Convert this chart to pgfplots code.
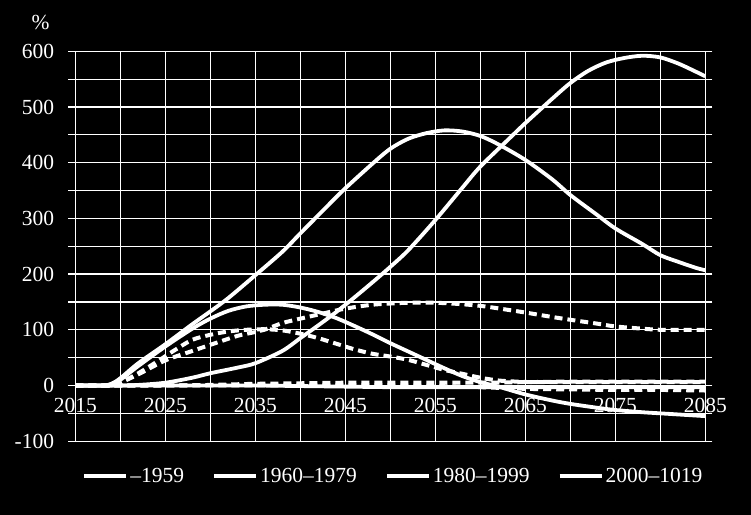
\documentclass[border=0pt]{standalone}
\usepackage{fontspec}
\setmainfont{Liberation Serif}
\usepackage{pgfplots}
\pgfplotsset{compat=1.18}
\pgfplotsset{
    sline/.style={white, line width=3.8bp, smooth, no markers, solid},
    dline/.style={white, line width=4bp, smooth, no markers, dash pattern=on 8bp off 5bp, forget plot},
}

\newcommand\chartfont{\fontsize{21.5bp}{26bp}\selectfont}

\begin{document}
\begin{tikzpicture}
\path[use as bounding box, fill=black] (0,0) rectangle (751bp,515bp);
\node[text=white, font=\chartfont] at (40.7bp,492.3bp) {\%};
\begin{axis}[
    at={(75.3bp,73.8bp)}, anchor=south west,
    scale only axis, width=630bp, height=389.9bp,
    xmin=2015, xmax=2085, ymin=-100, ymax=600,
    xtick={2015,2025,...,2085},
    xticklabels={2015,2025,2035,2045,2055,2065,2075,2085},
    minor xtick={2020,2030,...,2080},
    ytick={-100,0,...,600},
    yticklabels={-100,0,100,200,300,400,500,600},
    minor ytick={-50,50,...,550},
    xmajorgrids, xminorgrids, ymajorgrids, yminorgrids,
    grid style={white, line width=1.2bp},
    minor grid style={white, line width=1.2bp},
    axis line style={white, line width=1.2bp},
    xtick style={draw=none},
    ytick align=outside,
    ytick style={white, line width=1.2bp},
    major tick length=7bp, minor tick length=7bp,
    ticklabel style={font=\chartfont, text=white},
    yticklabel style={anchor=east, inner sep=0pt, xshift=-14bp},
    xticklabel style={anchor=center, inner sep=0pt, yshift=35.7bp},
    legend columns=4,
    legend style={at={(0.011,-0.0893)}, anchor=west, draw=none, fill=none,
        text=white, font=\chartfont, inner sep=0pt,
        nodes={inner sep=2bp},
        /tikz/every even column/.append style={column sep=26bp}},
    legend image code/.code={\draw[#1, line width=4bp] (0bp,0bp) -- (42bp,0bp);},
]
% dashed series (no legend)
\addplot[dline] coordinates {
(2015,0)(2019,0)(2020,5)(2022,22)(2024,42)(2026,63)(2028,82)(2030,91)(2032,97)
(2034,100)(2036,101)(2038,99)(2040,93)(2042,85)(2044,75)(2046,65)(2048,57)
(2050,52)(2052,46)(2054,37)(2056,28)(2058,21)(2060,14)(2062,9)(2064,7)(2066,6)
(2070,6)(2075,6)(2080,6)(2085,6)};
\addplot[dline] coordinates {
(2015,0)(2019,0)(2020,5)(2022,20)(2025,45)(2028,62)(2030,73)(2033,89)(2035,96)
(2036,100)(2038,112)(2040,120)(2043,131)(2045,138)(2048,145)(2051,148)(2054,149)
(2057,147)(2060,143)(2063,136)(2065,131)(2068,123)(2070,118)(2073,111)(2075,106)
(2078,102)(2080,100)(2083,100)(2085,100)};
\addplot[dline] coordinates {
(2015,0)(2025,0)(2030,1)(2035,3)(2040,4)(2045,5)(2050,5)(2055,5)(2060,5)
(2065,6)(2070,7)(2075,7)(2080,7)(2085,7)};
\addplot[dline] coordinates {
(2015,0)(2030,0)(2040,0)(2050,0)(2055,-1)(2060,-3)(2065,-6)(2070,-7)
(2075,-8)(2080,-8)(2085,-9)};
% solid series
\addplot[sline] coordinates {
(2015,0)(2020,0)(2025,0)(2030,0)(2035,0)(2040,-1)(2045,-2)(2050,-3)(2055,-3)
(2060,-3)(2065,-3)(2070,-3)(2075,-3)(2080,-3)(2085,-3)};
\addlegendentry{–1959}
\addplot[sline] coordinates {
(2015,0)(2019,0)(2020,10)(2022,35)(2025,70)(2028,102)(2030,120)(2032,134)
(2034,142)(2036,145)(2038,145)(2040,140)(2042,132)(2044,121)(2046,107)(2048,92)
(2050,76)(2052,61)(2054,46)(2056,31)(2058,17)(2060,6)(2062,-2)(2065,-16)
(2068,-27)(2070,-33)(2073,-40)(2075,-44)(2078,-48)(2080,-50)(2083,-53)(2085,-55)};
\addlegendentry{1960–1979}
\addplot[sline] coordinates {
(2015,0)(2018,0)(2019,3)(2020,13)(2022,40)(2025,74)(2028,110)(2030,133)(2032,157)
(2035,198)(2038,240)(2040,273)(2043,322)(2045,354)(2048,398)(2050,425)(2052,443)
(2054,453)(2056,458)(2058,456)(2060,448)(2062,433)(2065,405)(2068,370)(2070,342)
(2073,306)(2075,282)(2078,254)(2080,234)(2082,222)(2084,211)(2085,207)};
\addlegendentry{1980–1999}
\addplot[sline] coordinates {
(2015,0)(2020,0)(2022,1)(2025,5)(2028,14)(2030,22)(2033,32)(2035,40)(2038,62)
(2040,85)(2042,108)(2044,132)(2046,158)(2048,185)(2050,213)(2052,243)(2055,297)
(2058,355)(2060,393)(2063,440)(2065,471)(2068,515)(2070,543)(2072,565)(2074,580)
(2076,588)(2078,592)(2080,589)(2082,578)(2084,563)(2085,555)};
\addlegendentry{2000–1019}
\end{axis}
\end{tikzpicture}
\end{document}
